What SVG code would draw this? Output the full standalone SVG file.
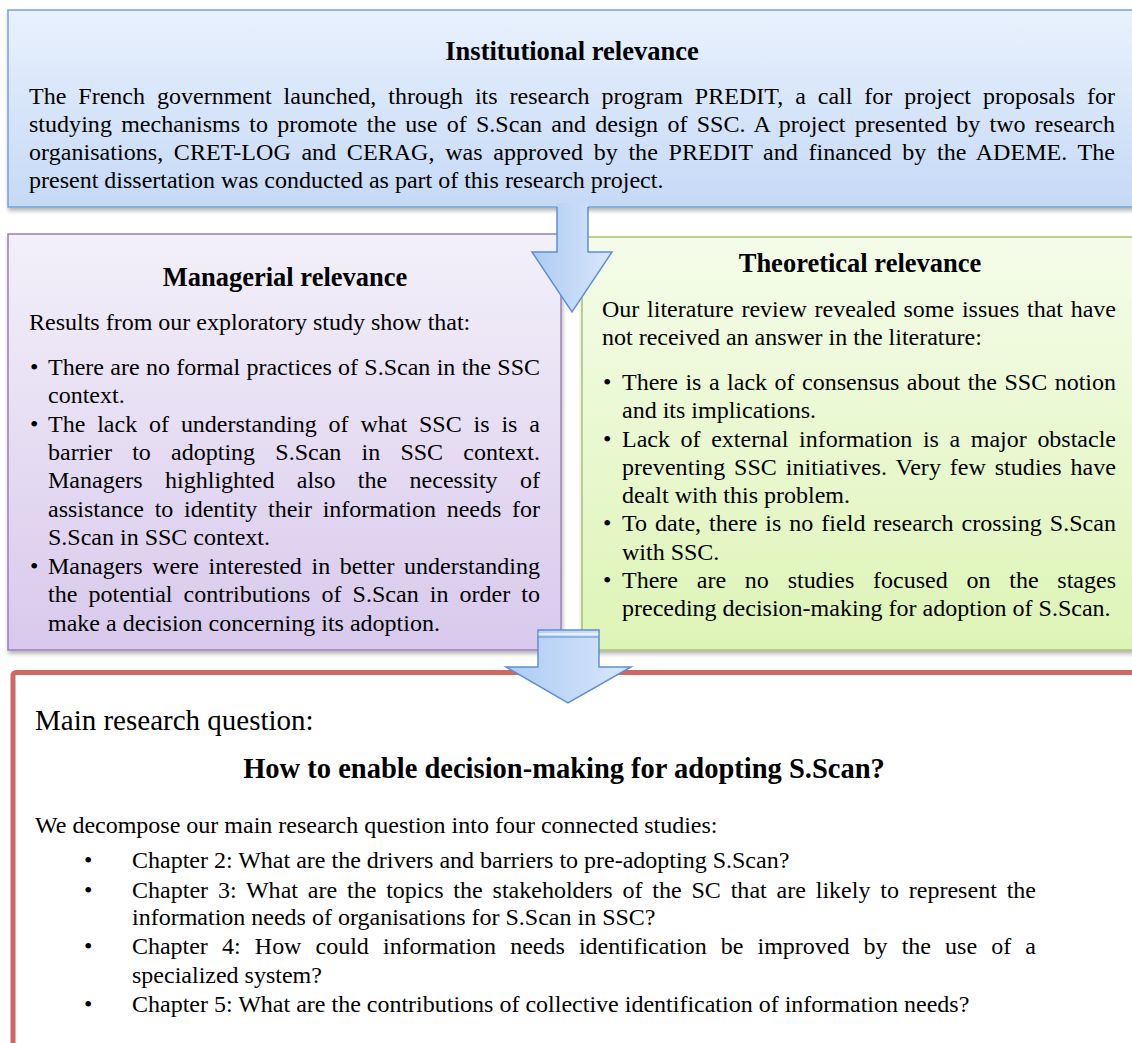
<svg xmlns="http://www.w3.org/2000/svg" width="1132" height="1043" viewBox="0 0 1132 1043">
<defs>
<style>
text{font-family:"Liberation Serif","Times New Roman",serif;fill:#000;}
.b{font-size:24px;}
.t{font-size:26.5px;font-weight:bold;text-anchor:middle;}
.arrow{stroke:#5d8fd1;stroke-width:1.5;stroke-linejoin:miter;}
</style>
<linearGradient id="gBlue" x1="0" y1="0" x2="0" y2="1"><stop offset="0" stop-color="#e9f1fd"/><stop offset="1" stop-color="#c5d9f6"/></linearGradient>
<linearGradient id="gPurple" x1="0" y1="0" x2="0" y2="1"><stop offset="0" stop-color="#f3f0f9"/><stop offset="1" stop-color="#d8c9ec"/></linearGradient>
<linearGradient id="gGreen" x1="0" y1="0" x2="0" y2="1"><stop offset="0" stop-color="#f5fcea"/><stop offset="1" stop-color="#ddf4b6"/></linearGradient>
<linearGradient id="gArrow" x1="0" y1="0" x2="1" y2="0"><stop offset="0" stop-color="#adcaf3"/><stop offset="1" stop-color="#d9e7fb"/></linearGradient>
<filter id="sh" x="-5%" y="-5%" width="110%" height="115%"><feDropShadow dx="1" dy="3" stdDeviation="2" flood-color="#000" flood-opacity="0.3"/></filter>
</defs>
<rect width="1132" height="1043" fill="#fff"/>

<g id="institutional">
<rect x="8" y="10" width="1150" height="197" fill="url(#gBlue)" stroke="#78a2d6" stroke-width="1.5" filter="url(#sh)"/>
<text class="t" x="572" y="60">Institutional relevance</text>
<text class="b" x="29" y="104" textLength="1086" lengthAdjust="spacing" word-spacing="5.9">The French government launched, through its research program PREDIT, a call for project proposals for</text>
<text class="b" x="29" y="132" textLength="1086" lengthAdjust="spacing" word-spacing="3.2">studying mechanisms to promote the use of S.Scan and design of SSC. A project presented by two research</text>
<text class="b" x="29" y="160" textLength="1086" lengthAdjust="spacing" word-spacing="4.6">organisations, CRET-LOG and CERAG, was approved by the PREDIT and financed by the ADEME. The</text>
<text class="b" x="29" y="188">present dissertation was conducted as part of this research project.</text>
</g>

<g id="managerial">
<rect x="8" y="234" width="553" height="416" fill="url(#gPurple)" stroke="#9b80bd" stroke-width="1.5" filter="url(#sh)"/>
<text class="t" x="285" y="286">Managerial relevance</text>
<text class="b" x="29" y="330">Results from our exploratory study show that:</text>
<text class="b" x="30" y="375">•</text>
<text class="b" x="48" y="375" textLength="492" lengthAdjust="spacing" word-spacing="0.3">There are no formal practices of S.Scan in the SSC</text>
<text class="b" x="48" y="403">context.</text>
<text class="b" x="30" y="432">•</text>
<text class="b" x="48" y="432" textLength="492" lengthAdjust="spacing" word-spacing="5.9">The lack of understanding of what SSC is is a</text>
<text class="b" x="48" y="460" textLength="492" lengthAdjust="spacing" word-spacing="14.2">barrier to adopting S.Scan in SSC context.</text>
<text class="b" x="48" y="488" textLength="492" lengthAdjust="spacing" word-spacing="16.4">Managers highlighted also the necessity of</text>
<text class="b" x="48" y="517" textLength="492" lengthAdjust="spacing" word-spacing="4.7">assistance to identity their information needs for</text>
<text class="b" x="48" y="545">S.Scan in SSC context.</text>
<text class="b" x="30" y="574">•</text>
<text class="b" x="48" y="574" textLength="492" lengthAdjust="spacing" word-spacing="3.6">Managers were interested in better understanding</text>
<text class="b" x="48" y="602" textLength="492" lengthAdjust="spacing" word-spacing="5.1">the potential contributions of S.Scan in order to</text>
<text class="b" x="48" y="631">make a decision concerning its adoption.</text>
</g>

<g id="theoretical">
<rect x="582" y="237" width="570" height="413" fill="url(#gGreen)" stroke="#a6c46c" stroke-width="1.5" filter="url(#sh)"/>
<text class="t" x="860" y="272">Theoretical relevance</text>
<text class="b" x="602" y="317" textLength="514" lengthAdjust="spacing" word-spacing="1.7">Our literature review revealed some issues that have</text>
<text class="b" x="602" y="345">not received an answer in the literature:</text>
<text class="b" x="603" y="390">•</text>
<text class="b" x="622" y="390" textLength="494" lengthAdjust="spacing" word-spacing="1.5">There is a lack of consensus about the SSC notion</text>
<text class="b" x="622" y="418">and its implications.</text>
<text class="b" x="603" y="447">•</text>
<text class="b" x="622" y="447" textLength="494" lengthAdjust="spacing" word-spacing="4.6">Lack of external information is a major obstacle</text>
<text class="b" x="622" y="475" textLength="494" lengthAdjust="spacing" word-spacing="2.7">preventing SSC initiatives. Very few studies have</text>
<text class="b" x="622" y="503">dealt with this problem.</text>
<text class="b" x="603" y="531">•</text>
<text class="b" x="622" y="531" textLength="494" lengthAdjust="spacing" word-spacing="1.9">To date, there is no field research crossing S.Scan</text>
<text class="b" x="622" y="560">with SSC.</text>
<text class="b" x="603" y="588">•</text>
<text class="b" x="622" y="588" textLength="494" lengthAdjust="spacing" word-spacing="12.8">There are no studies focused on the stages</text>
<text class="b" x="622" y="616">preceding decision-making for adoption of S.Scan.</text>
</g>

<g id="research-question">
<rect x="13" y="672.5" width="1150" height="400" rx="3" fill="#fff" stroke="#cf6762" stroke-width="5"/>
<text x="35" y="730" style="font-size:29px">Main research question:</text>
<text x="564" y="778" style="font-size:28.5px;font-weight:bold;text-anchor:middle">How to enable decision-making for adopting S.Scan?</text>
<text class="b" x="35" y="833">We decompose our main research question into four connected studies:</text>
<text class="b" x="84" y="868">•</text>
<text class="b" x="132" y="868">Chapter 2: What are the drivers and barriers to pre-adopting S.Scan?</text>
<text class="b" x="84" y="898">•</text>
<text class="b" x="132" y="898" textLength="904" lengthAdjust="spacing" word-spacing="3.8">Chapter 3: What are the topics the stakeholders of the SC that are likely to represent the</text>
<text class="b" x="132" y="925">information needs of organisations for S.Scan in SSC?</text>
<text class="b" x="84" y="954">•</text>
<text class="b" x="132" y="954" textLength="904" lengthAdjust="spacing" word-spacing="8.2">Chapter 4: How could information needs identification be improved by the use of a</text>
<text class="b" x="132" y="983">specialized system?</text>
<text class="b" x="84" y="1012">•</text>
<text class="b" x="132" y="1012">Chapter 5: What are the contributions of collective identification of information needs?</text>
</g>

<g id="connectors">
<path d="M557,203 V252 H532 L572,312 L612,252 H588 V203 Z" fill="url(#gArrow)"/>
<path class="arrow" fill="none" d="M557,207 V252 H532 L572,312 L612,252 H588 V207"/>
<path class="arrow" fill="url(#gArrow)" d="M538,630 H599 V667 H631 L568,703 L506,667 H538 Z"/>
<line x1="538.5" y1="637" x2="598.5" y2="637" stroke="#5d8fd1" stroke-width="1"/>
<line x1="538.5" y1="634" x2="598.5" y2="634" stroke="#f2f6fd" stroke-width="1.5"/>
</g>
</svg>
